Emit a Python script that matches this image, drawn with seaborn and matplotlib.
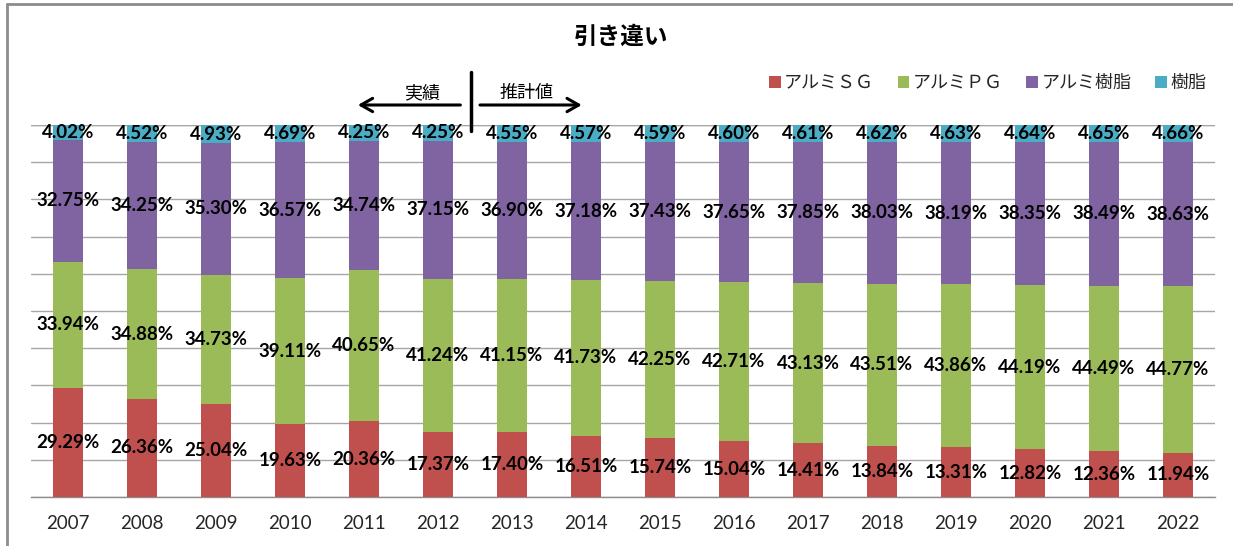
import matplotlib
matplotlib.use("Agg")
import matplotlib.pyplot as plt
from matplotlib.patches import Patch
from matplotlib.lines import Line2D
import numpy as np
import seaborn as sns

# --- data ---------------------------------------------------------------
years = ["2007", "2008", "2009", "2010", "2011", "2012", "2013", "2014",
         "2015", "2016", "2017", "2018", "2019", "2020", "2021", "2022"]
alumi_sg = [29.29, 26.36, 25.04, 19.63, 20.36, 17.37, 17.40, 16.51,
            15.74, 15.04, 14.41, 13.84, 13.31, 12.82, 12.36, 11.94]
alumi_pg = [33.94, 34.88, 34.73, 39.11, 40.65, 41.24, 41.15, 41.73,
            42.25, 42.71, 43.13, 43.51, 43.86, 44.19, 44.49, 44.77]
alumi_resin = [32.75, 34.25, 35.30, 36.57, 34.74, 37.15, 36.90, 37.18,
               37.43, 37.65, 37.85, 38.03, 38.19, 38.35, 38.49, 38.63]
resin = [4.02, 4.52, 4.93, 4.69, 4.25, 4.25, 4.55, 4.57,
         4.59, 4.60, 4.61, 4.62, 4.63, 4.64, 4.65, 4.66]

series_names = ["アルミＳＧ", "アルミＰＧ", "アルミ樹脂", "樹脂"]
series_colors = ["#C0504D", "#9BBB59", "#8064A2", "#4BACC6"]
title = "引き違い"
actual_label = "実績"
forecast_label = "推計値"

# --- style --------------------------------------------------------------
sns.set_theme(style="white")
plt.rcParams["font.family"] = ["Noto Sans CJK JP", "DejaVu Sans"]
num_font = "Lato"

fig = plt.figure(figsize=(12.33, 5.46), dpi=100)
W, H = 1233, 546
ax = fig.add_axes([31 / W, 1 - 497 / H, (1215 - 31) / W, (497 - 125) / H])

series = [alumi_sg, alumi_pg, alumi_resin, resin]
stack = np.cumsum(np.array(series, dtype=float), axis=0)

# draw cumulative totals from the top layer down so each layer covers the next
for i in range(len(series) - 1, -1, -1):
    sns.barplot(x=years, y=stack[i], color=series_colors[i], saturation=1,
                width=0.4, ax=ax, zorder=3, linewidth=0)

# value labels at the middle of each segment
for i, vals in enumerate(series):
    base = stack[i] - np.array(vals)
    for j, v in enumerate(vals):
        ax.text(j, base[j] + v / 2, f"{v:.2f}%", ha="center", va="center",
                fontsize=13.5, fontweight="bold", family=num_font,
                color="black", zorder=5)

ax.set_ylim(0, 100)
ax.set_xlim(-0.5, len(years) - 0.5)
ax.set_yticks(np.arange(0, 101, 10))
ax.set_yticklabels([])
ax.tick_params(axis="y", length=0)
ax.yaxis.grid(True, color="#A6A6A6", linewidth=1)
ax.set_axisbelow(True)
for s in ["left", "right", "top"]:
    ax.spines[s].set_visible(False)
ax.spines["bottom"].set_color("#8C8C8C")
ax.spines["bottom"].set_linewidth(1)

# category boundary ticks
ax.set_xticks(np.arange(-0.5, len(years), 1.0), minor=True)
ax.tick_params(axis="x", which="minor", length=6, width=1, color="#8C8C8C",
               direction="out")
ax.tick_params(axis="x", which="major", length=0, pad=13)
ax.set_xticks(range(len(years)))
ax.set_xticklabels(years, fontsize=13.5, family=num_font, color="#262626")
ax.set_xlabel("")
ax.set_ylabel("")

# top line of the plot area
ax.axhline(100, color="#A6A6A6", linewidth=1, zorder=1)

# title
fig.text(621 / W, 1 - 37 / H, title, ha="center", va="center",
         fontsize=17, fontweight="bold", color="black")

# legend
handles = [Patch(facecolor=c, edgecolor="none") for c in series_colors]
ax.legend(handles, series_names, loc="center right",
          bbox_to_anchor=(0.999, (497 - 83) / 372), ncol=4, frameon=False,
          fontsize=13, handlelength=0.65, handleheight=0.65,
          handletextpad=0.2, columnspacing=1.3, borderaxespad=0)

# boundary between actual and estimated values
split = 5.44
ax.add_line(Line2D([split, split], [(497 - 131) / 372 * 100, (497 - 72) / 372 * 100],
                   color="black", linewidth=2.5, clip_on=False, zorder=6))
y_arrow = (497 - 105) / 372 * 100
ax.annotate("", xy=(3.88, y_arrow), xytext=(5.34, y_arrow),
            arrowprops=dict(arrowstyle="->,head_length=0.7,head_width=0.4",
                            color="black", lw=2.2),
            annotation_clip=False)
ax.annotate("", xy=(6.98, y_arrow), xytext=(5.53, y_arrow),
            arrowprops=dict(arrowstyle="->,head_length=0.7,head_width=0.4",
                            color="black", lw=2.2),
            annotation_clip=False)
y_txt = (497 - 93) / 372 * 100
ax.text(4.79, y_txt, actual_label, ha="center", va="center", fontsize=13,
        color="black", clip_on=False)
ax.text(6.2, y_txt, forecast_label, ha="center", va="center", fontsize=13,
        color="black", clip_on=False)

# outer chart frame
frame_kw = dict(color="#8C8C8C", linewidth=2, transform=fig.transFigure)
fig.add_artist(Line2D([7 / W, 7 / W], [0, 1 - 4 / H], **frame_kw))
fig.add_artist(Line2D([7 / W, 1], [1 - 4 / H, 1 - 4 / H], **frame_kw))

fig.savefig("out.png", dpi=100)
